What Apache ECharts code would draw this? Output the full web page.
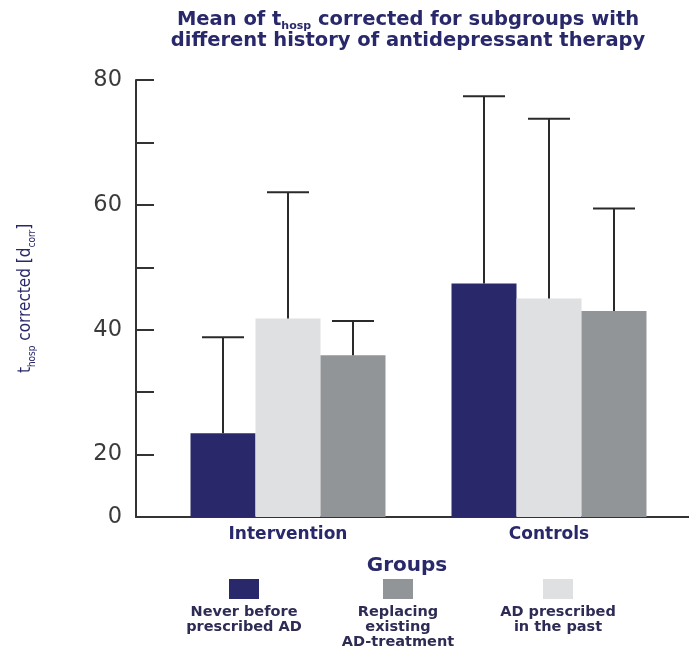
<!DOCTYPE html>
<html>
<head>
<meta charset="utf-8">
<script src="https://cdn.jsdelivr.net/npm/echarts@6/dist/echarts.min.js"></script>
<style>
  html, body { margin: 0; padding: 0; background: #fff; }
  #chart { width: 689px; height: 653px; }
</style>
</head>
<body>
<div id="chart"></div>
<script>
// categories + values
const groups = ["Intervention", "Controls"];
const seriesNames = ["Never before prescribed AD", "AD prescribed in the past", "Replacing existing AD-treatment"];
const neverMean = [23.4, 47.4];
const neverUpper = [38.8, 77.4];
const pastMean = [41.8, 45.0];
const pastUpper = [62.0, 73.8];
const replaceMean = [35.9, 43.0];
const replaceUpper = [41.4, 59.4];

// y axis: the "0" label sits one minor step below 20
const yLabelValues = [10, 20, 40, 60, 80];
const yLabelTexts = ["0", "20", "40", "60", "80"];

const navy = "#29286a";
const colors = {
    "Never before prescribed AD": navy,
    "AD prescribed in the past": "#dfe0e2",
    "Replacing existing AD-treatment": "#929597",
};
const legendText = {
    "Never before prescribed AD": ["Never before", "prescribed AD"],
    "Replacing existing AD-treatment": ["Replacing", "existing", "AD-treatment"],
    "AD prescribed in the past": ["AD prescribed", "in the past"],
};
const legendOrder = ["Never before prescribed AD", "Replacing existing AD-treatment", "AD prescribed in the past"];
const legendCenters = [244, 398, 558];

const BAR_W = 65;

function errorSeries(mean, upper, offset) {
    return {
        type: "custom",
        xAxisIndex: 0,
        yAxisIndex: 0,
        z: 5,
        silent: true,
        encode: { x: 0, y: [1, 2] },
        data: mean.map((m, i) => [i, m, upper[i]]),
        renderItem: (params, api) => {
            const base = api.coord([api.value(0), api.value(1)]);
            const top = api.coord([api.value(0), api.value(2)]);
            const x = base[0] + offset;
            const style = { stroke: "#2a2a2a", lineWidth: 2 };
            return {
                type: "group",
                children: [
                    { type: "line", shape: { x1: x, y1: base[1], x2: x, y2: top[1] }, style },
                    { type: "line", shape: { x1: x - 21, y1: top[1], x2: x + 21, y2: top[1] }, style },
                ],
            };
        },
    };
}

function makeLegend(name, i) {
    const lines = legendText[name].slice();
    while (lines.length < 3) lines.push(" ");
    return {
        data: [name],
        left: legendCenters[i] - 80,
        top: 579,
        padding: 0,
        icon: "rect",
        itemWidth: 0,
        itemHeight: 0,
        selectedMode: false,
        formatter: () => "{box| }\n" + lines.map((l) => "{t|" + l + "}").join("\n"),
        textStyle: {
            rich: {
                box: { width: 30, height: 20, lineHeight: 32, backgroundColor: colors[name], align: "center" },
                t: {
                    width: 150, align: "center", lineHeight: 15,
                    fontFamily: "DejaVu Sans", fontWeight: "bold", fontSize: 14.5, color: "#2e2c55",
                },
            },
        },
    };
}

const titleFont = { fontFamily: "DejaVu Sans", fontWeight: "bold", color: navy };

const option = {
    animation: false,
    backgroundColor: "#fff",
    title: {
        left: 408,
        top: 10,
        padding: 0,
        textAlign: "center",
        text: "{a1|Mean of t}{s|hosp}{a1| corrected for subgroups with}\n{a|different history of antidepressant therapy}",
        textStyle: {
            rich: {
                a1: { ...titleFont, fontSize: 19.5, lineHeight: 22, verticalAlign: "top" },
                a: { ...titleFont, fontSize: 19.5, lineHeight: 17 },
                s: { ...titleFont, fontSize: 11, lineHeight: 10, verticalAlign: "bottom" },
            },
        },
    },
    legend: legendOrder.map(makeLegend),
    grid: [
        { left: 157.5, right: 9.5, top: 80, bottom: 136 },
        { left: 136, right: 0, top: 80, bottom: 136 },
    ],
    xAxis: [
        {
            gridIndex: 0,
            type: "category",
            data: groups,
            axisLine: { show: false },
            axisTick: { show: false },
            axisLabel: {
                margin: 9,
                fontFamily: "DejaVu Sans",
                fontWeight: "bold",
                fontSize: 17,
                color: navy,
            },
        },
        {
            gridIndex: 1,
            type: "category",
            data: [""],
            axisLine: { show: true, lineStyle: { color: "#333", width: 2 } },
            axisTick: { show: false },
            axisLabel: { show: false },
            name: "Groups",
            nameLocation: "middle",
            nameGap: 39,
            nameTextStyle: {
                fontFamily: "DejaVu Sans",
                fontWeight: "bold",
                fontSize: 20,
                color: navy,
                padding: [0, 11, 0, 0],
            },
        },
    ],
    yAxis: [
        {
            gridIndex: 0,
            type: "value",
            min: 10,
            max: 80,
            interval: 10,
            show: false,
        },
        {
            gridIndex: 1,
            type: "value",
            min: 10,
            max: 80,
            interval: 10,
            axisLine: { show: true, lineStyle: { color: "#333", width: 2 } },
            axisTick: { show: true, inside: true, length: 18, lineStyle: { color: "#333", width: 2 } },
            splitLine: { show: false },
            axisLabel: {
                margin: 14,
                fontFamily: "DejaVu Sans",
                fontSize: 22.5,
                color: "#3b3b3b",
                formatter: (v) => {
                    const k = yLabelValues.indexOf(v);
                    return k >= 0 ? yLabelTexts[k] : "";
                },
            },
            name: "{t|t}{s|hosp}{t| corrected [d}{s|corr}{t|]}",
            nameLocation: "middle",
            nameRotate: 90,
            nameGap: 99,
            nameTextStyle: {
                rich: {
                    t: { fontFamily: "DejaVu Sans Condensed, Liberation Sans, sans-serif", fontSize: 17, color: navy, lineHeight: 22, verticalAlign: "middle" },
                    s: { fontFamily: "DejaVu Sans Condensed, Liberation Sans, sans-serif", fontSize: 10, color: navy, lineHeight: 10, verticalAlign: "bottom" },
                },
            },
        },
    ],
    series: [
        {
            name: seriesNames[0], type: "bar", xAxisIndex: 0, yAxisIndex: 0,
            barWidth: BAR_W, barGap: "0%", data: neverMean,
            itemStyle: { color: colors[seriesNames[0]] },
        },
        {
            name: seriesNames[1], type: "bar", xAxisIndex: 0, yAxisIndex: 0,
            barWidth: BAR_W, barGap: "0%", data: pastMean,
            itemStyle: { color: colors[seriesNames[1]] },
        },
        {
            name: seriesNames[2], type: "bar", xAxisIndex: 0, yAxisIndex: 0,
            barWidth: BAR_W, barGap: "0%", data: replaceMean,
            itemStyle: { color: colors[seriesNames[2]] },
        },
        errorSeries(neverMean, neverUpper, -BAR_W),
        errorSeries(pastMean, pastUpper, 0),
        errorSeries(replaceMean, replaceUpper, BAR_W),
    ],
};

const chart = echarts.init(document.getElementById("chart"));
chart.setOption(option);
</script>
</body>
</html>
